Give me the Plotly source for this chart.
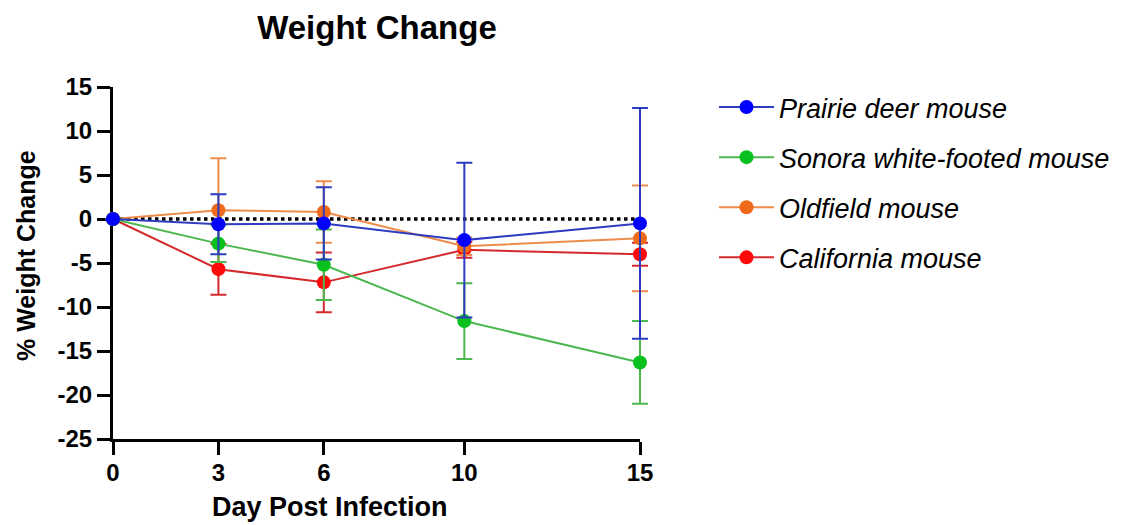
import plotly.graph_objects as go

# Days post infection
days = [0, 3, 6, 10, 15]

# Mean % weight change and error per species
prairie_mean = [0, -0.6, -0.5, -2.4, -0.5]
prairie_err = [0, 3.4, 4.1, 8.8, 13.1]

sonora_mean = [0, -2.8, -5.2, -11.6, -16.3]
sonora_err = [0, 2.1, 4.0, 4.3, 4.7]

oldfield_mean = [0, 1.0, 0.8, -3.1, -2.2]
oldfield_err = [0, 5.9, 3.5, 1.0, 6.0]

california_mean = [0, -5.7, -7.2, -3.5, -4.0]
california_err = [0, 2.9, 3.4, 0.9, 1.3]

y_ticks = [15, 10, 5, 0, -5, -10, -15, -20, -25]

FONT = "Liberation Sans"
W, H = 1128, 525

# pixel frame of the drawn axes
AX_L, AX_R, AX_T, AX_B = 113, 640, 87, 439
# the data subplot is a little wider so end caps are not clipped
PAD = 20
P_L, P_R = AX_L - PAD, AX_R + PAD
X_MIN, X_MAX = 0, 15
px_per_day = (AX_R - AX_L) / (X_MAX - X_MIN)
pad_days = PAD / px_per_day


def px(x):
    return (x - P_L) / (P_R - P_L)


def py(y):
    return (AX_B - y) / (AX_B - AX_T)


# name, means, errors, marker colour, line colour, legend rank
series = [
    ("California mouse", california_mean, california_err, "#FF0A0A", "#D42A2E", 4),
    ("Oldfield mouse", oldfield_mean, oldfield_err, "#F06A1C", "#EE8C4C", 3),
    ("Sonora white-footed mouse", sonora_mean, sonora_err, "#08C01E", "#4DB84F", 2),
    ("Prairie deer mouse", prairie_mean, prairie_err, "#0000FF", "#2E3CC0", 1),
]

fig = go.Figure()

# dotted baseline at 0 % (on the visible axes)
fig.add_trace(go.Scatter(
    x=[X_MIN, X_MAX], y=[0, 0], mode="lines",
    line=dict(color="black", width=3.5, dash="dot"),
    showlegend=False, hoverinfo="skip", xaxis="x", yaxis="y",
))

for name, mean, err, mcol, lcol, rank in series:
    fig.add_trace(go.Scatter(
        x=days, y=mean, name=name, mode="lines+markers",
        line=dict(color=lcol, width=2),
        marker=dict(color=mcol, size=14),
        error_y=dict(type="data", array=err, visible=True,
                     color=lcol, thickness=2, width=8),
        legendgroup=name, legendrank=rank,
        cliponaxis=False, xaxis="x2", yaxis="y",
    ))

axis_font = dict(size=24, family=FONT, weight="bold", color="black")

fig.update_layout(
    width=W, height=H,
    margin=dict(l=P_L, r=W - P_R, t=AX_T, b=H - AX_B),
    paper_bgcolor="white", plot_bgcolor="rgba(0,0,0,0)",
    font=dict(family=FONT, color="black"),
    title=dict(
        text="Weight Change", x=377 / W, xanchor="center",
        y=1 - 27 / H, yanchor="middle",
        font=dict(size=33, family=FONT, weight="bold", color="black"),
    ),
    xaxis=dict(
        domain=[px(AX_L), px(AX_R)],
        range=[X_MIN, X_MAX], tickvals=days, ticktext=[str(d) for d in days],
        showline=True, linecolor="black", linewidth=3,
        ticks="outside", ticklen=13, tickwidth=3, tickcolor="black",
        showgrid=False, zeroline=False, tickfont=axis_font,
        ticklabelstandoff=-3,
    ),
    xaxis2=dict(
        domain=[0, 1], anchor="y", visible=False,
        range=[X_MIN - pad_days, X_MAX + pad_days],
    ),
    yaxis=dict(
        range=[-25, 15], tickvals=y_ticks, ticktext=[str(v) for v in y_ticks],
        showline=True, linecolor="black", linewidth=3,
        ticks="outside", ticklen=13, tickwidth=3, tickcolor="black",
        showgrid=False, zeroline=False, tickfont=axis_font,
        anchor="x",
    ),
    legend=dict(
        x=px(714), xanchor="left", y=py(83), yanchor="top",
        font=dict(size=27, family=FONT, style="italic", color="black"),
        tracegroupgap=12, itemwidth=55,
        bgcolor="rgba(0,0,0,0)",
    ),
    annotations=[
        dict(text="Day Post Infection", xref="paper", yref="paper",
             x=px(330), y=py(507),
             xanchor="center", yanchor="middle", showarrow=False,
             font=dict(size=27, family=FONT, weight="bold", color="black")),
        dict(text="% Weight Change", xref="paper", yref="paper",
             x=px(26), y=py(256), textangle=-90,
             xanchor="center", yanchor="middle", showarrow=False,
             font=dict(size=25, family=FONT, weight="bold", color="black")),
    ],
)

fig.write_html("out.html")
